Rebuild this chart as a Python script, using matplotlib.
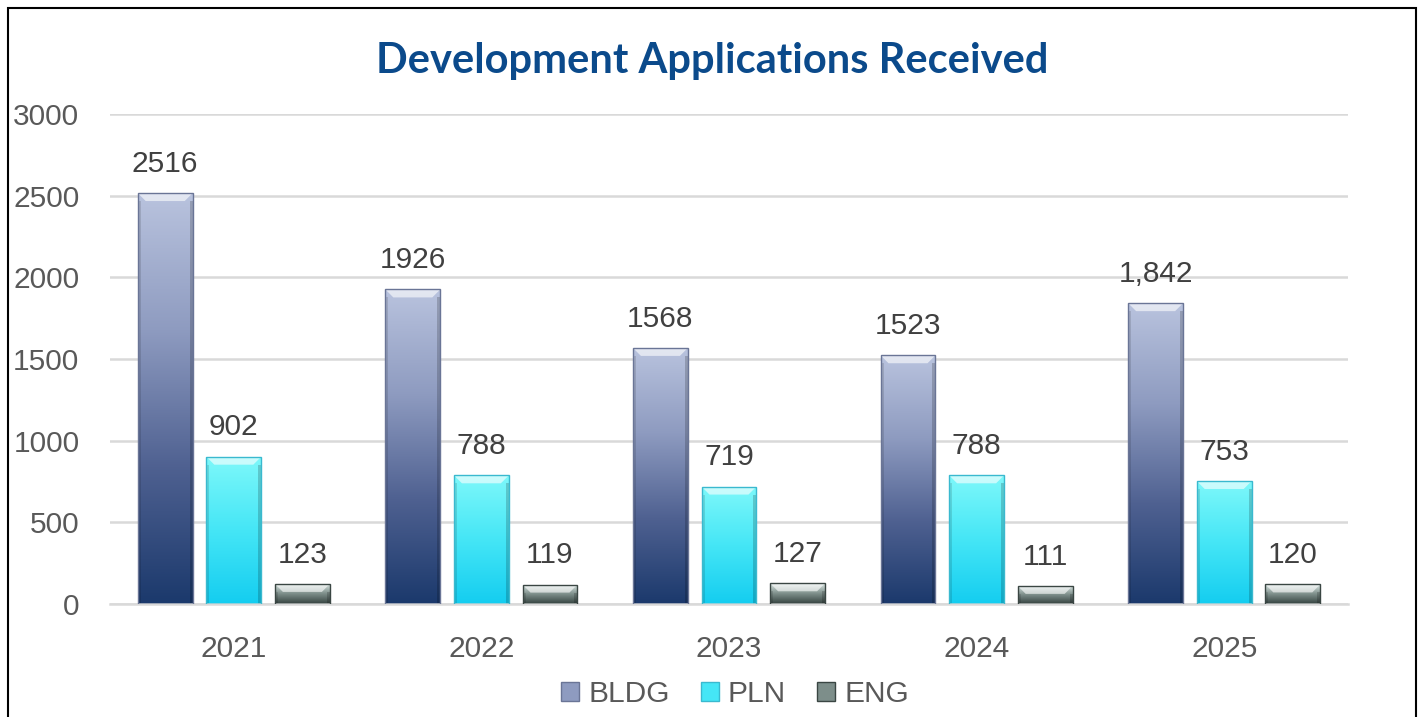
import numpy as np
import matplotlib
matplotlib.use("Agg")
import matplotlib.pyplot as plt
from matplotlib.colors import LinearSegmentedColormap
from matplotlib.patches import Rectangle, Polygon

years = ["2021", "2022", "2023", "2024", "2025"]
series_names = ["BLDG", "PLN", "ENG"]
bldg = [2516, 1926, 1568, 1523, 1842]
pln = [902, 788, 719, 788, 753]
eng = [123, 119, 127, 111, 120]
bldg_labels = ["2516", "1926", "1568", "1523", "1,842"]
pln_labels = ["902", "788", "719", "788", "753"]
eng_labels = ["123", "119", "127", "111", "120"]
yticks = [0, 500, 1000, 1500, 2000, 2500, 3000]

plt.rcParams['font.family'] = ['Liberation Sans', 'DejaVu Sans']

W, H = 1425, 717
fig = plt.figure(figsize=(W / 100, H / 100), dpi=100)
ax = fig.add_axes([110 / W, 1 - 604 / H, (1348 - 110) / W, (604 - 114) / H])
ax.set_xlim(-0.5, 4.5)
ax.set_ylim(0, 3000)

grads = {
    "BLDG": ["#1b396c", "#4f6191", "#8e9bc0", "#b9c3de"],
    "PLN": ["#14cdf0", "#45e6f6", "#7ef8fa"],
    "ENG": ["#34423f", "#7d8e8a", "#dde9e6"],
}
edges = {"BLDG": "#6a7596", "PLN": "#3ab9cf", "ENG": "#3a4643"}

width = 0.222
offsets = [-0.277, 0.0, 0.277]
data = [bldg, pln, eng]
labels = [bldg_labels, pln_labels, eng_labels]

px_x = 5.0 / (1348 - 110)
px_y = 3000.0 / (604 - 114)
FS = 21.5

x = np.arange(len(years))
for si, name in enumerate(series_names):
    cmap = LinearSegmentedColormap.from_list(name, grads[name])
    bars = ax.bar(x + offsets[si], data[si], width, color="none",
                  edgecolor=edges[name], linewidth=1.0, zorder=3)
    for bi, b in enumerate(bars):
        x0, w_, h_ = b.get_x(), b.get_width(), b.get_height()
        grad = np.linspace(0, 1, 256).reshape(-1, 1)
        im = ax.imshow(grad, cmap=cmap, origin="lower", aspect="auto",
                       extent=(x0, x0 + w_, 0, h_), zorder=2,
                       interpolation="bilinear")
        im.set_clip_path(b)
        bx, by = 8 * px_x, 8 * px_y
        top = Polygon([(x0, h_), (x0 + w_, h_), (x0 + w_ - bx, h_ - by),
                       (x0 + bx, h_ - by)], closed=True,
                      facecolor="white", alpha=0.6, edgecolor="none", zorder=2.5)
        ax.add_patch(top)
        sx = 3 * px_x
        ax.add_patch(Rectangle((x0, 0), sx, h_ - by, facecolor="black",
                               alpha=0.12, edgecolor="none", zorder=2.5))
        ax.add_patch(Rectangle((x0 + w_ - sx, 0), sx, h_ - by, facecolor="black",
                               alpha=0.18, edgecolor="none", zorder=2.5))
        ax.annotate(labels[si][bi], (x0 + w_ / 2, h_), xytext=(0, 11),
                    textcoords="offset points", ha="center", va="bottom",
                    fontsize=FS, color="#404040", zorder=4)

ax.set_yticks(yticks)
ax.set_yticklabels([str(v) for v in yticks])
ax.set_xticks(x)
ax.set_xticklabels(years)
ax.tick_params(axis="both", length=0, labelsize=FS, labelcolor="#595959")
ax.tick_params(axis="y", pad=22)
ax.tick_params(axis="x", pad=22)
ax.grid(axis="y", color="#d9d9d9", linewidth=1.8, zorder=0)
ax.set_axisbelow(True)
for s in ["top", "right", "left"]:
    ax.spines[s].set_visible(False)
ax.spines["bottom"].set_color("#d9d9d9")
ax.spines["bottom"].set_linewidth(1.8)

fig.text(712 / W, 1 - 61 / H, "Development Applications Received",
         ha="center", va="center", fontsize=30, fontweight="bold",
         color="#0b4a8b", family=["Lato", "DejaVu Sans"])

handles = [Rectangle((0, 0), 1, 1, facecolor=grads[n][len(grads[n]) // 2],
                     edgecolor=edges[n]) for n in series_names]
leg = fig.legend(handles, series_names, loc="center", bbox_to_anchor=(735 / W, 1 - 694 / H),
                 ncol=3, frameon=False, fontsize=FS, handlelength=0.6,
                 handleheight=0.6, handletextpad=0.3, columnspacing=1.05)
for t in leg.get_texts():
    t.set_color("#595959")

fig.patches.append(Rectangle((8 / W, -0.05), (1416 - 8) / W, 1.05 - 8 / H,
                             transform=fig.transFigure, fill=False,
                             edgecolor="black", linewidth=1.5))

fig.savefig("out.png", dpi=100)
